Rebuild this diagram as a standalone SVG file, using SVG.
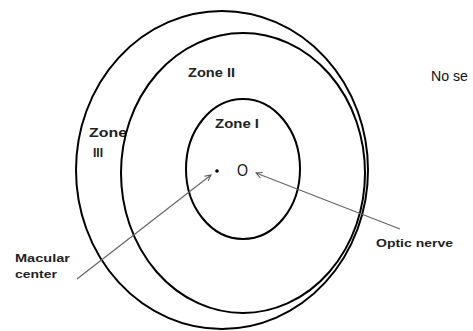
<svg xmlns="http://www.w3.org/2000/svg" width="473" height="331" viewBox="0 0 473 331">
<defs>
<marker id="ah" markerWidth="8" markerHeight="8" refX="7" refY="4" orient="auto" markerUnits="userSpaceOnUse">
<path d="M1,1 L7,4 L1,7" fill="none" stroke="#555" stroke-width="1"/>
</marker>
</defs>
<style>
.ring{fill:none;stroke:#000;stroke-width:2}
.lbl{font-family:"Liberation Sans",Arial,sans-serif;font-size:12px;font-weight:bold;fill:#222}
.cap{font-family:"Liberation Sans",Arial,sans-serif;font-size:11px;font-weight:bold;fill:#222}
.conn{stroke:#666;stroke-width:1.2;fill:none}
</style>
<rect width="473" height="331" fill="#fff"/>
<g id="zone3"><ellipse class="ring" cx="222" cy="170" rx="146" ry="159"/>
<text class="lbl" x="89" y="137" textLength="38" lengthAdjust="spacingAndGlyphs">Zone</text>
<text class="lbl" x="93" y="157">III</text></g>
<g id="zone2"><ellipse class="ring" cx="243" cy="173" rx="122" ry="140"/>
<text class="lbl" x="188" y="77" textLength="47" lengthAdjust="spacingAndGlyphs">Zone II</text></g>
<g id="zone1"><ellipse class="ring" cx="243" cy="169" rx="57" ry="70"/>
<text class="lbl" x="215" y="128" textLength="44" lengthAdjust="spacingAndGlyphs">Zone I</text></g>
<g id="macula"><circle cx="217" cy="171" r="1.8" fill="#000"/></g>
<g id="disc"><text x="237" y="176" font-family="Liberation Sans,Arial,sans-serif" font-size="16" fill="#111" textLength="11" lengthAdjust="spacingAndGlyphs">O</text></g>
<g id="nose"><text x="431" y="81" font-family="Liberation Sans,Arial,sans-serif" font-size="15" fill="#111" textLength="37" lengthAdjust="spacingAndGlyphs">No se</text></g>
<g id="macular-label"><text class="cap" x="15" y="262" textLength="55" lengthAdjust="spacingAndGlyphs">Macular</text>
<text class="cap" x="15" y="278" textLength="42" lengthAdjust="spacingAndGlyphs">center</text></g>
<g id="optic-label"><text class="cap" x="376" y="247" textLength="77" lengthAdjust="spacingAndGlyphs">Optic nerve</text></g>
<g id="connectors">
<line class="conn" x1="77" y1="279" x2="211" y2="175" marker-end="url(#ah)"/>
<line class="conn" x1="400" y1="229" x2="256" y2="173" marker-end="url(#ah)"/>
</g>
</svg>
